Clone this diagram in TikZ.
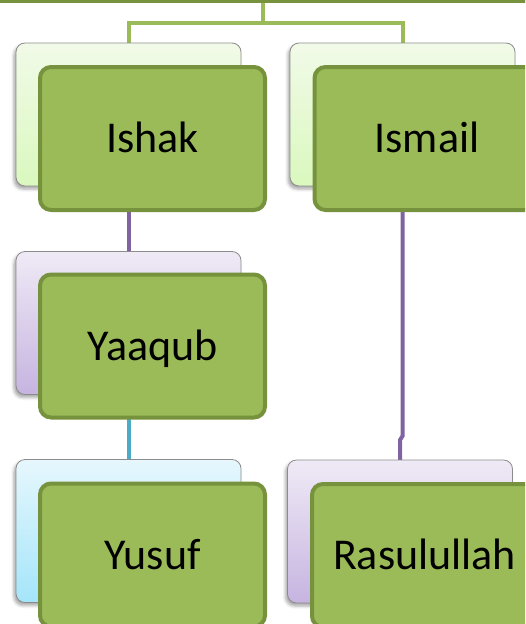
\documentclass[tikz,border=0pt]{standalone}
\usepackage{fontspec}
\setmainfont{Carlito}
\usetikzlibrary{backgrounds,shadows.blur}
\definecolor{fgfill}{HTML}{9BBB59}
\definecolor{fgdraw}{HTML}{76923C}
\definecolor{gline}{HTML}{9BBB59}
\definecolor{pline}{HTML}{8064A2}
\definecolor{cline}{HTML}{4BACC6}
\definecolor{gtop}{HTML}{F1FAE8}
\definecolor{gbot}{HTML}{DAF8BE}
\definecolor{ptop}{HTML}{EFEAF6}
\definecolor{pbot}{HTML}{C6B4E0}
\definecolor{ctop}{HTML}{E6F7FD}
\definecolor{cbot}{HTML}{A4E5FA}
\definecolor{bkdraw}{HTML}{8C8C8C}
\tikzset{
  backbox/.style={rectangle, rounded corners=9pt, draw=bkdraw, line width=0.8pt,
    minimum width=225pt, minimum height=143pt, inner sep=0pt,
    blur shadow={shadow xshift=-2pt, shadow yshift=-3pt, shadow opacity=35, shadow blur radius=3pt}},
  greenback/.style={backbox, top color=gtop, bottom color=gbot},
  purpleback/.style={backbox, top color=ptop, bottom color=pbot},
  cyanback/.style={backbox, top color=ctop, bottom color=cbot},
  frontbox/.style={rectangle, rounded corners=11pt, fill=fgfill, draw=fgdraw, line width=4pt,
    minimum width=225pt, minimum height=143pt, inner sep=0pt,
    font=\fontsize{44}{52}\selectfont, text=black, text height=28.3pt, text depth=0pt},
  rootbox/.style={rectangle, fill=fgfill, draw=fgdraw, line width=4pt,
    minimum width=600pt, minimum height=100pt, inner sep=0pt},
  glink/.style={draw=gline, line width=4pt},
  plink/.style={draw=pline, line width=4pt},
  clink/.style={draw=cline, line width=4pt}
}
\begin{document}
\begin{tikzpicture}[x=1pt,y=-1pt]
\useasboundingbox (0,0) rectangle (525,624);
\clip (0,0) rectangle (525,624);
\node[rootbox, anchor=south] (root) at (263,2.5) {};
% left column
\node[greenback] (ishakb) at (128.5,114.5) {};
\node[frontbox] (ishak) at (152.5,138.5) {Ishak};
\node[purpleback] (yaaqubb) at (128.5,323) {};
\node[frontbox] (yaaqub) at (152.5,346) {Yaaqub};
\node[cyanback] (yusufb) at (128.5,531) {};
\node[frontbox] (yusuf) at (152.5,555) {Yusuf};
% right column
\node[greenback] (ismailb) at (402.5,114.5) {};
\node[frontbox] (ismail) at (427,138.5) {Ismail};
\node[purpleback] (rasulb) at (400,531.5) {};
\node[frontbox] (rasul) at (424.5,555.5) {Rasulullah};
\coordinate (j1) at (0,436);
\coordinate (j2) at (0,440);
\begin{scope}[on background layer]
\draw[glink] (root.south) -- ++(0,20.5) coordinate (fork) -| (ishakb.north);
\draw[glink] (fork) -| (ismailb.north);
\draw[plink] (ishakb.center) -- (yaaqubb.center);
\draw[clink] (yaaqubb.center) -- (yusufb.center);
\draw[plink] (ismailb.center) -- (ismailb.center |- j1) -- (rasulb.center |- j2) -- (rasulb.center);
\end{scope}
\end{tikzpicture}
\end{document}
